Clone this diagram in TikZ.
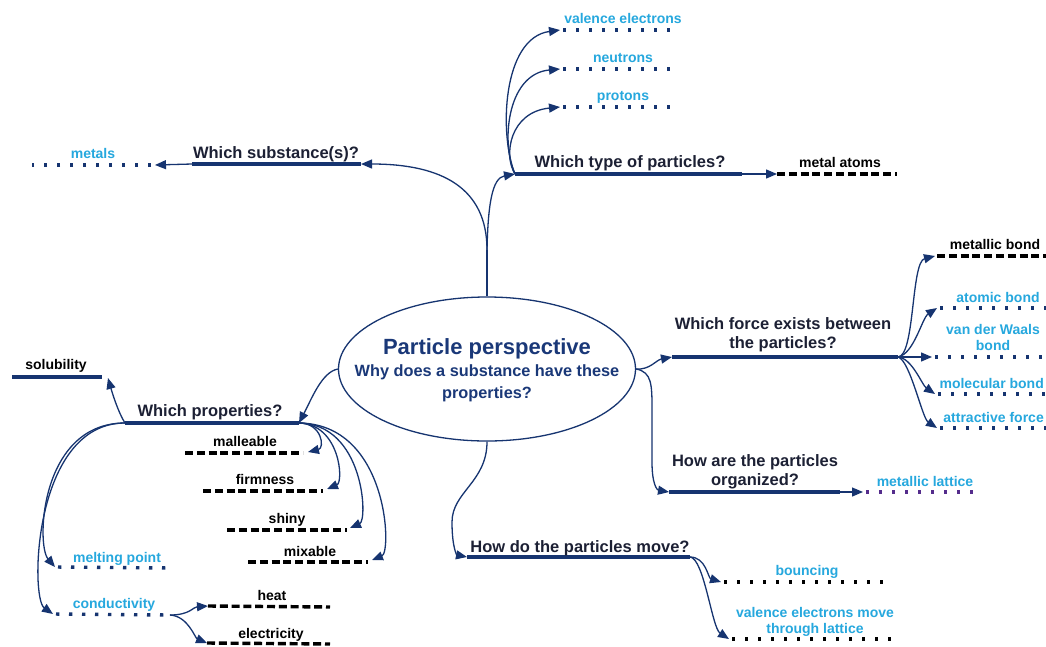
\documentclass[tikz,border=0pt]{standalone}
\usepackage{fontspec}
\setmainfont{Liberation Sans}
\usetikzlibrary{arrows.meta,shapes.geometric}
\definecolor{linkblue}{RGB}{22,52,112}
\definecolor{qtext}{RGB}{28,32,52}
\definecolor{coretext}{RGB}{26,56,120}
\definecolor{leafcyan}{RGB}{38,168,222}
\definecolor{latticepurple}{RGB}{84,44,140}
\tikzset{
  link/.style={draw=linkblue, line width=1.3pt, -{Triangle[length=11pt,width=9pt]}},
  stem/.style={draw=linkblue, line width=1.3pt},
  bar/.style={draw=linkblue, line width=3.6pt},
  dotbar/.style={draw=linkblue, line width=3.4pt, dash pattern=on 3.4pt off 9.6pt},
  dashbar/.style={draw=black, line width=3.4pt, dash pattern=on 8pt off 3.8pt},
  question/.style={font=\bfseries\fontsize{16.5}{18.5}\selectfont, text=qtext, align=center, inner sep=0pt, anchor=base},
  leaf/.style={font=\bfseries\fontsize{14}{16}\selectfont, text=leafcyan, align=center, inner sep=0pt, anchor=base},
  leafdark/.style={leaf, text=black},
}
\begin{document}
\begin{tikzpicture}[x=1pt,y=-1pt]
\clip (0,0) rectangle (1046,646);
\fill[white] (0,0) rectangle (1046,646);

% central topic
\node[draw=linkblue, line width=1.3pt, ellipse, minimum width=297pt, minimum height=144pt, inner sep=0pt] (core) at (487,369) {};
\node[align=center, text=coretext, font=\bfseries\fontsize{16.3}{22}\selectfont, inner sep=0pt, anchor=base] (coretitle) at (487,398)
  {{\fontsize{22}{22}\selectfont Particle perspective}\\Why does a substance have these\\properties?};

% ---------- which substance ----------
\coordinate (fork) at (487,250);
\coordinate (subL) at (192,164);
\coordinate (subR) at (361,164);
\draw[stem] (core.north) -- (fork);
\draw[link] (fork) .. controls (487,188) and (442,164) .. (subR);
\draw[bar] (subL) -- (subR);
\node[question] (subQ) at (276,158) {Which substance(s)?};
\coordinate (metA) at (155,165);
\coordinate (metB) at (32,165);
\draw[link] (subL) -- (metA);
\draw[dotbar, shorten <=4pt] (metA) -- (metB);
\node[leaf] (metT) at (93,158) {metals};

% ---------- which type of particles ----------
\coordinate (typL) at (515,174);
\coordinate (typR) at (742,174);
\draw[link] (fork) .. controls (488,205) and (492,178) .. (typL);
\draw[bar] (typL) -- (typR);
\node[question] (typQ) at (630,167) {Which type of particles?};
\coordinate (atmA) at (777,174);
\coordinate (atmB) at (897,174);
\draw[link] (typR) -- (atmA);
\draw[dashbar] (atmA) -- (atmB);
\node[leafdark] (atmT) at (840,167) {metal atoms};

\coordinate (valA) at (560,30);  \coordinate (valB) at (678,30);
\coordinate (neuA) at (560,69);  \coordinate (neuB) at (678,69);
\coordinate (proA) at (560,107); \coordinate (proB) at (678,107);
\draw[link] (typL) .. controls (499,135) and (502,38) .. (valA);
\draw[link] (typL) .. controls (501,145) and (506,74) .. (neuA);
\draw[link] (typL) .. controls (503,155) and (510,112) .. (proA);
\draw[dotbar, shorten <=3pt] (valA) -- (valB);
\draw[dotbar, shorten <=3pt] (neuA) -- (neuB);
\draw[dotbar, shorten <=3pt] (proA) -- (proB);
\node[leaf] (valT) at (623,23) {valence electrons};
\node[leaf] (neuT) at (623,62) {neutrons};
\node[leaf] (proT) at (623,100) {protons};

% ---------- which force ----------
\coordinate (forL) at (672,357);
\coordinate (forR) at (898,357);
\draw[link] (core.east) .. controls (650,370) and (656,360) .. (forL);
\draw[bar] (forL) -- (forR);
\node[question] (forQ) at (783,348) {Which force exists between\\the particles?};

\coordinate (mbA) at (935,256); \coordinate (mbB) at (1046,256);
\coordinate (abA) at (937,308); \coordinate (abB) at (1046,308);
\coordinate (vwA) at (932,357); \coordinate (vwB) at (1046,357);
\coordinate (moA) at (935,394); \coordinate (moB) at (1046,394);
\coordinate (afA) at (937,428); \coordinate (afB) at (1046,428);
\draw[link] (forR) .. controls (915,356) and (911,262) .. (mbA);
\draw[link] (forR) .. controls (914,354) and (922,318) .. (abA);
\draw[link] (forR) -- (vwA);
\draw[link] (forR) .. controls (912,358) and (922,385) .. (moA);
\draw[link] (forR) .. controls (910,360) and (922,418) .. (afA);
\draw[dashbar, shorten <=2pt] (mbA) -- (mbB);
\draw[dotbar, shorten <=3pt] (abA) -- (abB);
\draw[dotbar, shorten <=3pt] (vwA) -- (vwB);
\draw[dotbar, shorten <=3pt] (moA) -- (moB);
\draw[dotbar, shorten <=3pt] (afA) -- (afB);
\node[leafdark] (mbT) at (995,249) {metallic bond};
\node[leaf] (abT) at (998,302) {atomic bond};
\node[leaf] (vwT) at (993,350) {van der Waals\\bond};
\node[leaf, anchor=base east] (moT) at (1044,388) {molecular bond};
\node[leaf, anchor=base east] (afT) at (1044,422) {attractive force};

% ---------- organisation ----------
\coordinate (orgL) at (669,492);
\coordinate (orgR) at (840,492);
\draw[link] (core.east) .. controls (652,372) and (652,385) .. (652,410) -- (652,462) .. controls (652,484) and (657,490) .. (orgL);
\draw[bar] (orgL) -- (orgR);
\node[question] (orgQ) at (755,485) {How are the particles\\organized?};
\coordinate (latA) at (863,492); \coordinate (latB) at (978,492);
\draw[link] (orgR) -- (latA);
\draw[dotbar, draw=latticepurple, shorten <=3pt] (latA) -- (latB);
\node[leaf] (latT) at (925,486) {metallic lattice};

% ---------- movement ----------
\coordinate (movL) at (467,557);
\coordinate (movR) at (690,557);
\draw[link] (core.south) .. controls (487,482) and (452,492) .. (452,522) .. controls (452,548) and (457,555) .. (movL);
\draw[bar] (movL) -- (movR);
\node[question] (movQ) at (580,552) {How do the particles move?};
\coordinate (bncA) at (721,582); \coordinate (bncB) at (890,582);
\coordinate (vemA) at (729,639); \coordinate (vemB) at (898,639);
\draw[link] (movR) .. controls (706,557) and (708,578) .. (bncA);
\draw[link] (movR) .. controls (704,558) and (712,628) .. (vemA);
\draw[dotbar, draw=black, shorten <=3pt] (bncA) -- (bncB);
\draw[dotbar, draw=black, shorten <=3pt] (vemA) -- (vemB);
\node[leaf] (bncT) at (807,575) {bouncing};
\node[leaf] (vemT) at (815,633) {valence electrons move\\through lattice};

% ---------- properties ----------
\coordinate (prpL) at (125,423);
\coordinate (prpR) at (299,423);
\draw[link] (core.west) .. controls (322,372) and (312,398) .. (prpR);
\draw[bar] (prpL) -- (prpR);
\node[question] (prpQ) at (210,416) {Which properties?};

\coordinate (solA) at (108,378);
\coordinate (solL) at (12,377); \coordinate (solR) at (102,377);
\draw[link] (prpL) .. controls (118,412) and (112,392) .. (solA);
\draw[bar] (solL) -- (solR);
\node[leafdark] (solT) at (56,369) {solubility};

\coordinate (malA) at (308,452); \coordinate (malB) at (185,453);
\coordinate (firA) at (327,489); \coordinate (firB) at (203,491);
\coordinate (shiA) at (350,528); \coordinate (shiB) at (227,530);
\coordinate (mixA) at (372,560); \coordinate (mixB) at (248,562);
\draw[link] (prpR) .. controls (322,423) and (325,448) .. (malA);
\draw[link] (prpR) .. controls (340,424) and (344,482) .. (firA);
\draw[link] (prpR) .. controls (364,424) and (368,520) .. (shiA);
\draw[link] (prpR) .. controls (388,424) and (392,552) .. (mixA);
\draw[dashbar] (malB) -- ++(118,0);
\draw[dashbar] (firB) -- ++(120,0);
\draw[dashbar] (shiB) -- ++(120,0);
\draw[dashbar] (mixB) -- ++(120,0);
\node[leafdark] (malT) at (245,446) {malleable};
\node[leafdark] (firT) at (265,484) {firmness};
\node[leafdark] (shiT) at (287,523) {shiny};
\node[leafdark] (mixT) at (310,556) {mixable};

\coordinate (melA) at (55,567); \coordinate (melB) at (172,568);
\coordinate (conA) at (53,614); \coordinate (conB) at (170,615);
\draw[link] (prpL) .. controls (40,423) and (36,545) .. (melA);
\draw[link] (prpL) .. controls (33,423) and (30,598) .. (conA);
\draw[dotbar, shorten <=3pt] (melA) -- (melB);
\draw[dotbar, shorten <=3pt] (conA) -- (conB);
\node[leaf] (melT) at (117,562) {melting point};
\node[leaf] (conT) at (114,608) {conductivity};

\coordinate (heaA) at (208,606); \coordinate (heaB) at (330,607);
\coordinate (eleA) at (207,643); \coordinate (eleB) at (330,644);
\draw[link] (conB) .. controls (190,615) and (193,607) .. (heaA);
\draw[link] (conB) .. controls (188,616) and (195,638) .. (eleA);
\draw[dashbar] (heaA) -- (heaB);
\draw[dashbar] (eleA) -- (eleB);
\node[leafdark] (heaT) at (272,600) {heat};
\node[leafdark] (eleT) at (271,638) {electricity};
\end{tikzpicture}
\end{document}
